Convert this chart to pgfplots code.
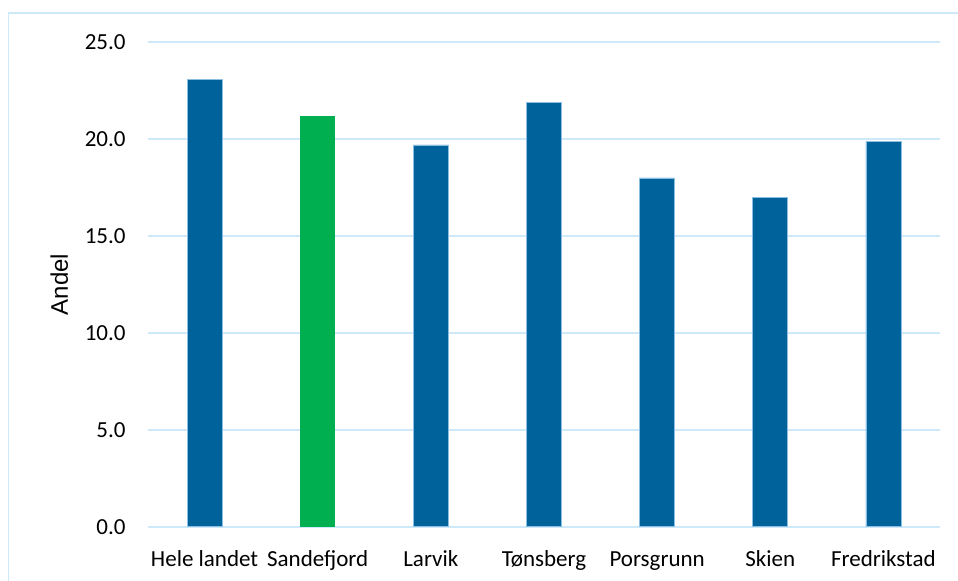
\documentclass[border=0pt]{standalone}
\usepackage{fontspec}
\setmainfont{Carlito}
\newfontfamily\arialfont{Liberation Sans}
\usepackage{pgfplots}
\pgfplotsset{compat=1.18}
\definecolor{barblue}{RGB}{0,98,155}
\definecolor{bargreen}{RGB}{0,175,80}
\definecolor{gridblue}{RGB}{206,233,250}
\definecolor{edgeblue}{RGB}{140,190,225}
\begin{document}
\begin{tikzpicture}
\begin{axis}[
  at={(0,0)}, anchor=south west,
  scale only axis,
  width=396pt, height=242.2pt,
  xmin=-0.5, xmax=6.5,
  ymin=0, ymax=25,
  ytick={0,5,10,15,20,25},
  xtick={0,1,2,3,4,5,6},
  xticklabels={Hele landet,Sandefjord,Larvik,Tønsberg,Porsgrunn,Skien,Fredrikstad},
  axis line style={draw=none},
  major tick length=0pt,
  ymajorgrids,
  grid style={gridblue, line width=1pt},
  /pgf/number format/assume math mode=true,
  /pgf/number format/.cd, fixed, fixed zerofill, precision=1, /pgfplots/.cd,
  yticklabel style={font=\fontsize{11.5}{13.8}\selectfont, anchor=east, inner sep=0pt, xshift=-11pt},
  xticklabel style={font=\fontsize{11.5}{13.8}\selectfont, anchor=base, inner sep=0pt, yshift=-20pt},
  ylabel={Andel},
  ylabel style={font=\arialfont\fontsize{12}{14}\selectfont, at={(axis description cs:0,0.5)}, anchor=center, inner sep=0pt, yshift=44.4pt},
  ybar, bar width=17.5pt, bar shift=0pt,
]
\addplot[fill=barblue, draw=edgeblue, line width=0.4pt] coordinates {(0,23.1) (2,19.7) (3,21.9) (4,18.0) (5,17.0) (6,19.9)};
\addplot[fill=bargreen, draw=none] coordinates {(1,21.2)};
\end{axis}
\draw[gridblue, line width=0.8pt] (-69.65pt,-40pt) -- (-69.65pt,256.7pt) -- (406pt,256.7pt) -- (406pt,-40pt);
\pgfresetboundingbox
\path[use as bounding box] (-74pt,-27.15pt) rectangle (405pt,263.35pt);
\end{tikzpicture}
\end{document}
